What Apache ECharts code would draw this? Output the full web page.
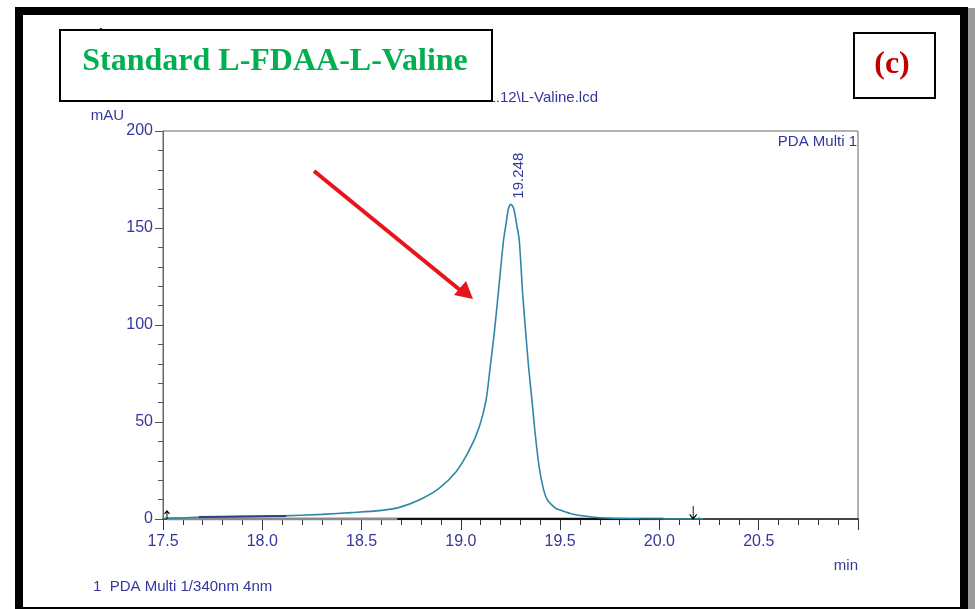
<!DOCTYPE html>
<html><head><meta charset="utf-8">
<script src="https://cdn.jsdelivr.net/npm/echarts@6/dist/echarts.min.js"></script>
<style>html,body{margin:0;padding:0;background:#fff}#c{width:975px;height:609px}</style>
</head><body><div id="c"></div>
<script>
// ---- data ----
const retentionTime = [17.50,17.60,17.70,17.90,18.10,18.30,18.45,18.59,18.69,18.79,18.89,18.976,19.043,19.093,19.127,19.148,19.168,19.19,19.215,19.228,19.238,19.245,19.252,19.259,19.268,19.28,19.294,19.312,19.327,19.341,19.358,19.374,19.394,19.415,19.436,19.478,19.50,19.56,19.65,19.76,19.90,20.10,20.17,20.20,20.22];
const absorbance    = [0.3,0.6,1.0,1.3,1.6,2.4,3.3,4.3,6.0,9.8,15.8,24.4,35.6,47.6,61.3,78.5,95.7,118,143.8,152.4,159.3,161.5,162.2,161.5,159.3,152.4,143.8,115,95.7,78.5,61.3,44.2,27,15.8,9.8,5.5,4.6,2.6,1.2,0.4,0.1,0.0,0.0,0.3,0.0];
const darkTraceT = [17.68, 18.12];
const darkTraceV = [1.0, 1.6];
const baselineGrayT = [17.52, 18.68];
const baselineBlackT = [18.68, 20.02];
const peakTime = 19.248;
const peakHeight = 162;
const peakLabel = '19.248';
const markerEndTime = 20.17;
const markerStartTime = 17.52;
const xTickLabels = ['17.5','18.0','18.5','19.0','19.5','20.0','20.5'];
const yTickLabels = ['0','50','100','150','200'];

const sans = "'Liberation Sans',Arial,sans-serif";
const blue = '#36369c';
const toPairs = (a, b) => a.map((v, i) => [v, b[i]]);

const chart = echarts.init(document.getElementById('c'), null, {renderer: 'canvas'});
chart.setOption({
  backgroundColor: '#fff',
  animation: false,
  grid: {left: 163, top: 131, right: 117, bottom: 90, show: true, borderColor: '#666', borderWidth: 1, backgroundColor: 'transparent'},
  xAxis: {
    type: 'value', min: 17.5, max: 21.0, interval: 0.5,
    name: 'min', nameLocation: 'end', nameGap: 0,
    nameTextStyle: {color: blue, fontFamily: sans, fontSize: 15, align: 'right', verticalAlign: 'top', padding: [39, 0, 0, 0]},
    axisLine: {show: true, onZero: false, lineStyle: {color: '#222', width: 1.5}},
    axisTick: {show: true, inside: false, length: 11, lineStyle: {color: '#333', width: 1}},
    minorTick: {show: true, splitNumber: 5, length: 6, lineStyle: {color: '#333', width: 1}},
    splitLine: {show: false},
    axisLabel: {color: blue, fontFamily: sans, fontSize: 16, margin: 15,
      formatter: v => { const s = v.toFixed(1); return xTickLabels.includes(s) ? s : ''; }}
  },
  yAxis: {
    type: 'value', min: 0, max: 200, interval: 50,
    name: 'mAU', nameLocation: 'end', nameGap: 10,
    nameTextStyle: {color: blue, fontFamily: sans, fontSize: 15, align: 'right', verticalAlign: 'middle', padding: [0, 39, 0, 0]},
    axisLine: {show: true, lineStyle: {color: '#666', width: 1}},
    axisTick: {show: true, length: 8, lineStyle: {color: '#555', width: 1}},
    minorTick: {show: true, splitNumber: 5, length: 5, lineStyle: {color: '#555', width: 1}},
    splitLine: {show: false},
    axisLabel: {color: blue, fontFamily: sans, fontSize: 16, margin: 10,
      formatter: v => yTickLabels.includes(String(v)) ? String(v) : ''}
  },
  series: [
    {type: 'line', data: toPairs(baselineGrayT, [0, 0]), showSymbol: false, z: 3,
     lineStyle: {color: '#8a8a8a', width: 3}},
    {type: 'line', data: toPairs(baselineBlackT, [0, 0]), showSymbol: false, z: 3,
     lineStyle: {color: '#111', width: 2.5}},
    {type: 'line', data: toPairs(retentionTime, absorbance), showSymbol: false, smooth: 0.25, z: 4,
     lineStyle: {color: '#2f87a8', width: 1.6},
     markPoint: {
       symbol: 'circle', symbolSize: 0, silent: true,
       data: [
         {coord: [peakTime, peakHeight], label: {show: true, formatter: peakLabel, rotate: 90, position: 'inside', offset: [29, 9],
           color: blue, fontFamily: sans, fontSize: 15}},
         {coord: [markerEndTime, 0], symbol: 'path://M5,0 L5,14 M1,9 L5,14 L9,9', symbolSize: [7, 13], symbolOffset: [0, '-50%'],
           itemStyle: {color: 'none', borderColor: '#000', borderWidth: 1.2}, label: {show: false}},
         {coord: [markerStartTime, 0], symbol: 'path://M5,14 L5,0 M1,5 L5,0 L9,5', symbolSize: [5, 8], symbolOffset: [0, '-50%'],
           itemStyle: {color: 'none', borderColor: '#000', borderWidth: 1.2}, label: {show: false}}
       ]
     }},
    {type: 'line', data: toPairs(darkTraceT, darkTraceV), showSymbol: false, z: 5,
     lineStyle: {color: '#2b3f8a', width: 2}}
  ],
  graphic: [
    // outer black frame
    {type: 'rect', shape: {x: 19, y: 11, width: 945, height: 600}, style: {fill: 'none', stroke: '#000', lineWidth: 8}, z: 1},
    {type: 'rect', shape: {x: 968, y: 8, width: 7, height: 601}, style: {fill: '#9a9a9a'}, z: 1},
    // partially hidden header texts
    {type: 'text', x: 88, y: 35, style: {text: 'Chromatogram', fill: '#222', font: "bold 15px " + sans, textVerticalAlign: 'middle'}, z: 1},
    {type: 'text', x: 598, y: 98, style: {text: 'D:\\Users\\sonthine\\1.11.12\\L-Valine.lcd', fill: blue, font: "15px " + sans, textAlign: 'right', textVerticalAlign: 'middle'}, z: 1},
    // title box
    {type: 'rect', shape: {x: 60, y: 30, width: 432, height: 71}, style: {fill: '#fff', stroke: '#000', lineWidth: 2}, z: 10},
    {type: 'text', x: 275, y: 62, style: {text: 'Standard L-FDAA-L-Valine', fill: '#00b050', font: "bold 32px 'Liberation Serif','Times New Roman',serif", textAlign: 'center', textVerticalAlign: 'middle'}, z: 11},
    // (c) box
    {type: 'rect', shape: {x: 854, y: 33, width: 81, height: 65}, style: {fill: '#fff', stroke: '#000', lineWidth: 2}, z: 10},
    {type: 'text', x: 892, y: 65, style: {text: '(c)', fill: '#c00000', font: "bold 32px 'Liberation Serif','Times New Roman',serif", textAlign: 'center', textVerticalAlign: 'middle'}, z: 11},
    // in-plot / footer labels
    {type: 'text', x: 857, y: 142, style: {text: 'PDA Multi 1', fill: blue, font: "15px " + sans, textAlign: 'right', textVerticalAlign: 'middle'}, z: 5},
    {type: 'text', x: 93, y: 587, style: {text: '1  PDA Multi 1/340nm 4nm', fill: blue, font: "15px " + sans, textAlign: 'left', textVerticalAlign: 'middle'}, z: 5},
    // red annotation arrow
    {type: 'line', shape: {x1: 314, y1: 171, x2: 460, y2: 290}, style: {stroke: '#e8141c', lineWidth: 4}, z: 6},
    {type: 'polygon', shape: {points: [[473, 299], [454, 295], [466, 281]]}, style: {fill: '#e8141c'}, z: 6}
  ]
});
</script></body></html>
